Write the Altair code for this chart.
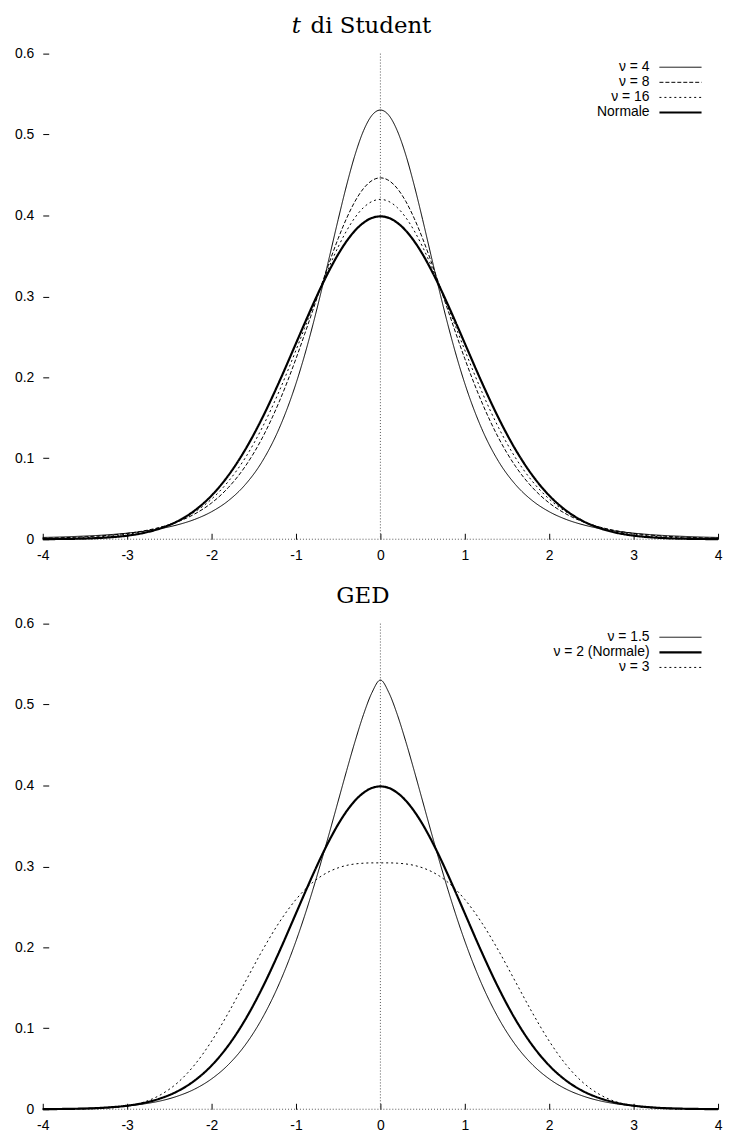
import altair as alt
import pandas as pd

# ---------------- data ----------------
X = [-4.0, -3.8, -3.6, -3.4, -3.2, -3.0, -2.8, -2.6, -2.4, -2.2, -2.0, -1.8, -1.6, -1.4, -1.2,
     -1.0, -0.9, -0.8, -0.7, -0.6, -0.5, -0.4, -0.3, -0.2, -0.1, 0.0,
     0.1, 0.2, 0.3, 0.4, 0.5, 0.6, 0.7, 0.8, 0.9, 1.0,
     1.2, 1.4, 1.6, 1.8, 2.0, 2.2, 2.4, 2.6, 2.8, 3.0, 3.2, 3.4, 3.6, 3.8, 4.0]

NORMALE = [0.0001, 0.0003, 0.0006, 0.0012, 0.0024, 0.0044, 0.0079, 0.0136, 0.0224, 0.0355, 0.0540,
           0.0790, 0.1109, 0.1497, 0.1942, 0.2420, 0.2661, 0.2897, 0.3123, 0.3332, 0.3521, 0.3683,
           0.3814, 0.3910, 0.3970, 0.3989, 0.3970, 0.3910, 0.3814, 0.3683, 0.3521, 0.3332, 0.3123,
           0.2897, 0.2661, 0.2420, 0.1942, 0.1497, 0.1109, 0.0790, 0.0540, 0.0355, 0.0224, 0.0136,
           0.0079, 0.0044, 0.0024, 0.0012, 0.0006, 0.0003, 0.0001]

T4 = [0.0022, 0.0027, 0.0035, 0.0044, 0.0057, 0.0075, 0.0099, 0.0132, 0.0179, 0.0245, 0.0340,
      0.0477, 0.0676, 0.0961, 0.1367, 0.1924, 0.2266, 0.2649, 0.3066, 0.3506, 0.3951, 0.4375,
      0.4751, 0.5047, 0.5238, 0.5303, 0.5238, 0.5047, 0.4751, 0.4375, 0.3951, 0.3506, 0.3066,
      0.2649, 0.2266, 0.1924, 0.1367, 0.0961, 0.0676, 0.0477, 0.0340, 0.0245, 0.0179, 0.0132,
      0.0099, 0.0075, 0.0057, 0.0044, 0.0035, 0.0027, 0.0022]

T8 = [0.0013, 0.0018, 0.0025, 0.0036, 0.0051, 0.0072, 0.0104, 0.0150, 0.0216, 0.0312, 0.0448,
      0.0640, 0.0902, 0.1251, 0.1696, 0.2231, 0.2526, 0.2830, 0.3136, 0.3435, 0.3716, 0.3966,
      0.4176, 0.4334, 0.4432, 0.4465, 0.4432, 0.4334, 0.4176, 0.3966, 0.3716, 0.3435, 0.3136,
      0.2830, 0.2526, 0.2231, 0.1696, 0.1251, 0.0902, 0.0640, 0.0448, 0.0312, 0.0216, 0.0150,
      0.0104, 0.0072, 0.0051, 0.0036, 0.0025, 0.0018, 0.0013]

T16 = [0.0006, 0.0010, 0.0016, 0.0025, 0.0040, 0.0062, 0.0096, 0.0148, 0.0224, 0.0337, 0.0496,
       0.0716, 0.1007, 0.1379, 0.1827, 0.2336, 0.2603, 0.2872, 0.3134, 0.3384, 0.3612, 0.3812,
       0.3976, 0.4098, 0.4173, 0.4199, 0.4173, 0.4098, 0.3976, 0.3812, 0.3612, 0.3384, 0.3134,
       0.2872, 0.2603, 0.2336, 0.1827, 0.1379, 0.1007, 0.0716, 0.0496, 0.0337, 0.0224, 0.0148,
       0.0096, 0.0062, 0.0040, 0.0025, 0.0016, 0.0010, 0.0006]

GED15 = [0.0003, 0.0005, 0.0009, 0.0015, 0.0025, 0.0041, 0.0066, 0.0104, 0.0163, 0.0249, 0.0375,
         0.0552, 0.0796, 0.1124, 0.1548, 0.2078, 0.2383, 0.2713, 0.3064, 0.3431, 0.3808, 0.4184,
         0.4546, 0.4877, 0.5148, 0.5303, 0.5148, 0.4877, 0.4546, 0.4184, 0.3808, 0.3431, 0.3064,
         0.2713, 0.2383, 0.2078, 0.1548, 0.1124, 0.0796, 0.0552, 0.0375, 0.0249, 0.0163, 0.0104,
         0.0066, 0.0041, 0.0025, 0.0015, 0.0009, 0.0005, 0.0003]

GED3 = [0.0000, 0.0000, 0.0002, 0.0006, 0.0016, 0.0040, 0.0089, 0.0181, 0.0330, 0.0550, 0.0842,
        0.1193, 0.1576, 0.1959, 0.2306, 0.2592, 0.2708, 0.2804, 0.2881, 0.2940, 0.2983, 0.3013,
        0.3031, 0.3040, 0.3044, 0.3044, 0.3044, 0.3040, 0.3031, 0.3013, 0.2983, 0.2940, 0.2881,
        0.2804, 0.2708, 0.2592, 0.2306, 0.1959, 0.1576, 0.1193, 0.0842, 0.0550, 0.0330, 0.0181,
        0.0089, 0.0040, 0.0016, 0.0006, 0.0002, 0.0000, 0.0000]

TOP_LABELS = ["ν = 4", "ν = 8", "ν = 16", "Normale"]
BOT_LABELS = ["ν = 1.5", "ν = 2 (Normale)", "ν = 3"]

X_TICKS = [-4, -3, -2, -1, 0, 1, 2, 3, 4]
Y_TICKS = [0.0, 0.1, 0.2, 0.3, 0.4, 0.5, 0.6]

TOP_TITLE_ITALIC = "t"
TOP_TITLE_REST = "di Student"
BOT_TITLE = "GED"

# ---------------- styles ----------------
TOP_DASH = [[1, 0], [4, 2], [2, 3], [1, 0]]
TOP_WIDTH = [1, 1, 1, 2.2]
BOT_DASH = [[1, 0], [1, 0], [2, 3]]
BOT_WIDTH = [1, 2.2, 1]

W, H = 680, 489
SANS = "Liberation Sans"
SERIF = "DejaVu Serif"

xscale = alt.Scale(domain=[-4, 4], nice=False, zero=False)
yscale = alt.Scale(domain=[0, 0.6], nice=False, zero=False)

xaxis = alt.Axis(values=X_TICKS, title=None, grid=False, domain=False, ticks=True,
                 tickSize=6, tickColor="black", tickWidth=1, offset=-6,
                 labelPadding=9, labelFlush=False, labelOverlap=False,
                 labelFont=SANS, labelFontSize=14, labelColor="black",
                 labelExpr="'' + datum.value")
yaxis = alt.Axis(values=Y_TICKS, title=None, grid=False, domain=False, ticks=True,
                 tickSize=6, tickColor="black", tickWidth=1, offset=-6,
                 labelPadding=9, labelOverlap=False,
                 labelFont=SANS, labelFontSize=14, labelColor="black",
                 labelExpr="'' + datum.value")


def text_layer(s, x, y, **kw):
    return alt.Chart(pd.DataFrame({"s": [s]})).mark_text(
        baseline="alphabetic", font=SERIF, fontSize=23, color="black", **kw
    ).encode(x=alt.value(x), y=alt.value(y), text="s:N")


def panel(labels, series, dashes, widths, titles):
    rows = []
    for lab, ys in zip(labels, series):
        for xv, yv in zip(X, ys):
            rows.append({"x": xv, "y": yv, "s": lab})
    df = pd.DataFrame(rows)
    dash_scale = alt.Scale(type="ordinal", domain=labels, range=dashes)
    width_scale = alt.Scale(type="ordinal", domain=labels, range=widths)

    # dotted zero axes (y is independent in this layer, so the rule has its own hidden y)
    zero_h = alt.Chart(pd.DataFrame({"v": [0.0]})).mark_rule(
        color="#555555", strokeDash=[1, 2], strokeWidth=1
    ).encode(y=alt.Y("v:Q", scale=yscale, axis=None))
    zero_v = alt.Chart(pd.DataFrame({"v": [0.0]})).mark_rule(
        color="#555555", strokeDash=[1, 2], strokeWidth=1
    ).encode(x=alt.X("v:Q", scale=xscale, axis=xaxis))

    lines = alt.Chart(df).mark_line(color="black", interpolate="monotone").encode(
        x=alt.X("x:Q", scale=xscale, axis=xaxis),
        y=alt.Y("y:Q", scale=yscale, axis=yaxis),
        strokeDash=alt.StrokeDash("s:N", scale=dash_scale, legend=None),
        strokeWidth=alt.StrokeWidth("s:N", scale=width_scale, legend=None),
    )

    n = len(labels)
    leg_df = pd.DataFrame({"s": labels, "r": list(range(n))})

    def ry():
        return alt.Y("r:Q", scale=alt.Scale(domain=[0, n - 1],
                                            range=[13.7, 13.7 + 15.2 * (n - 1)]),
                     axis=None)

    leg_rule = alt.Chart(leg_df).mark_rule(color="black").encode(
        x=alt.value(621), x2=alt.value(663.4), y=ry(),
        strokeDash=alt.StrokeDash("s:N", scale=dash_scale, legend=None),
        strokeWidth=alt.StrokeWidth("s:N", scale=width_scale, legend=None),
    )
    leg_text = alt.Chart(leg_df).mark_text(
        align="right", baseline="middle", font=SANS, fontSize=14, color="black"
    ).encode(x=alt.value(611), y=ry(), text="s:N")

    return alt.layer(zero_h, zero_v, lines, leg_rule, leg_text, *titles).resolve_scale(
        y="independent").properties(width=W, height=H)


top = panel(TOP_LABELS, [T4, T8, T16, NORMALE], TOP_DASH, TOP_WIDTH, [
    text_layer(TOP_TITLE_ITALIC, 260, -20.7, align="right", fontStyle="italic"),
    text_layer(TOP_TITLE_REST, 269.7, -20.7, align="left"),
])
bottom = panel(BOT_LABELS, [GED15, NORMALE, GED3], BOT_DASH, BOT_WIDTH, [
    text_layer(BOT_TITLE, 322.4, -20.7, align="center"),
])

chart = alt.vconcat(top, bottom, spacing=23).resolve_scale(
    x="independent", y="independent", strokeDash="independent", strokeWidth="independent"
).properties(
    padding={"left": 6, "top": 3, "right": 0, "bottom": 0}
).configure_view(stroke=None)

chart.save("out.html", embed_options={"renderer": "svg", "actions": False})
